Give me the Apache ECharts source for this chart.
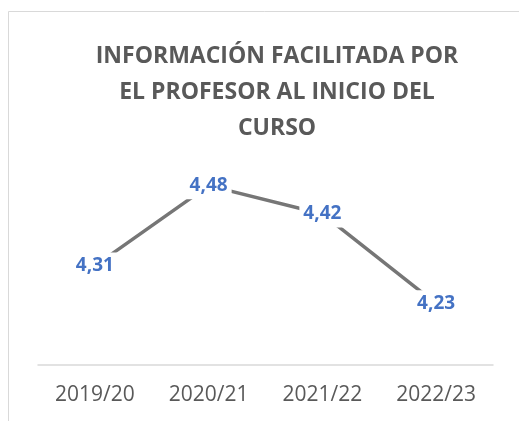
<!DOCTYPE html>
<html>
<head>
<meta charset="utf-8">
<script src="https://cdn.jsdelivr.net/npm/echarts@6/dist/echarts.min.js"></script>
<style>
  html, body { margin: 0; padding: 0; background: #fff; }
  #main { width: 519px; height: 421px; }
</style>
</head>
<body>
<div id="main"></div>
<script>
var cursos = ['2019/20', '2020/21', '2021/22', '2022/23'];
var valores = [4.31, 4.48, 4.42, 4.23];
var titulo = 'INFORMACIÓN FACILITADA POR\nEL PROFESOR AL INICIO DEL\nCURSO';

var myChart = echarts.init(document.getElementById('main'));
var option = {
    backgroundColor: '#ffffff',
    animation: false,
    title: {
        text: titulo,
        left: 272,
        top: 33,
        textAlign: 'center',
        textStyle: {
            fontFamily: 'Open Sans',
            fontWeight: 'bold',
            fontSize: 23,
            lineHeight: 36,
            color: '#595959'
        }
    },
    graphic: [{
        type: 'rect',
        shape: { x: 8.5, y: 11.5, width: 700, height: 700 },
        style: { fill: 'none', stroke: '#d9d9d9', lineWidth: 1 },
        silent: true
    }],
    grid: {
        left: 38,
        right: 26,
        top: 129,
        bottom: 56
    },
    xAxis: {
        type: 'category',
        data: cursos,
        axisLine: { lineStyle: { color: '#d9d9d9', width: 1.5 } },
        axisTick: { show: false },
        axisLabel: {
            margin: 20,
            fontFamily: 'Open Sans',
            fontSize: 21,
            color: '#595959'
        }
    },
    yAxis: {
        type: 'value',
        min: 4.1,
        max: 4.6,
        show: false,
        splitLine: { show: false }
    },
    series: [{
        type: 'line',
        data: valores,
        symbol: 'circle',
        symbolSize: 1,
        itemStyle: { color: 'rgba(0,0,0,0)' },
        lineStyle: { color: '#767676', width: 3.5 },
        label: {
            show: true,
            position: 'inside',
            formatter: function (p) { return p.value.toFixed(2).replace('.', ','); },
            fontFamily: 'Open Sans',
            fontWeight: 'bold',
            fontSize: 19,
            color: '#4472c4',
            backgroundColor: '#ffffff',
            padding: [4, 4]
        }
    }]
};
myChart.setOption(option);
</script>
</body>
</html>
